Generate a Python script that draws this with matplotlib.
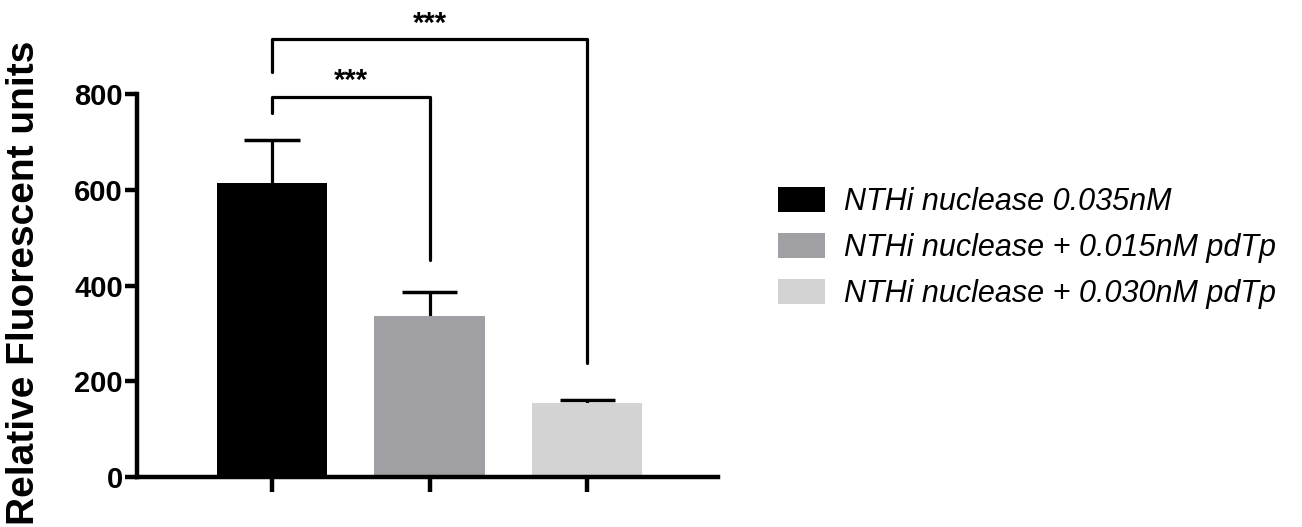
import matplotlib
matplotlib.use("Agg")
import matplotlib.pyplot as plt
from matplotlib.patches import Patch

# --- data
groups = ["NTHi nuclease 0.035nM",
          "NTHi nuclease + 0.015nM pdTp",
          "NTHi nuclease + 0.030nM pdTp"]
means = [615, 337, 154]
sem = [89, 50, 7]
colors = ["#000000", "#a0a0a4", "#d3d3d3"]
yticks = [0, 200, 400, 600, 800]

# significance brackets: (x1, x2, top, left leg end, right leg end, text y)
brackets = [(0, 1, 793, 760, 454, 828), (0, 2, 915, 847, 238, 946)]
stars = ["***", "***"]

plt.rcParams['font.family'] = ['Liberation Sans', 'DejaVu Sans']

fig = plt.figure(figsize=(13.02, 5.27), dpi=100)
ax = fig.add_axes([0.1052, 0.0949, 0.4463, 0.7267])

x = list(range(len(groups)))
ax.bar(x, means, width=0.70, color=colors, zorder=2)
# upper error bars only
tops = [m + s for m, s in zip(means, sem)]
ax.vlines(x, means, tops, color='black', lw=2.3, zorder=1)
ax.hlines(tops, [i - 0.175 for i in x], [i + 0.175 for i in x],
          color='black', lw=2.5, zorder=1)

for (x1, x2, top, l_end, r_end, ty), s in zip(brackets, stars):
    ax.plot([x1, x1, x2, x2], [l_end, top, top, r_end], color='black',
            lw=2.3, clip_on=False, solid_capstyle='round')
    ax.text((x1 + x2) / 2, ty, s, ha='center', va='center',
            fontsize=21, fontweight='bold', clip_on=False)

ax.set_xlim(-0.857, 2.83)
ax.set_ylim(0, 800)
ax.set_yticks(yticks)
ax.set_yticklabels([str(v) for v in yticks], fontsize=21, fontweight='heavy')
ax.set_xticks(x)
ax.set_xticklabels([])

for side in ['top', 'right']:
    ax.spines[side].set_visible(False)
for side in ['left', 'bottom']:
    ax.spines[side].set_linewidth(3.2)
ax.tick_params(axis='y', length=9, width=3.2, pad=1)
ax.tick_params(axis='x', length=11, width=3.2)

ax.set_ylabel("Relative Fluorescent units", fontsize=28, fontweight='bold')
ax.yaxis.set_label_coords(-0.1635, 0.507)

handles = [Patch(facecolor=c, edgecolor='none') for c in colors]
leg = fig.legend(handles, groups, loc='center left',
                 bbox_to_anchor=(0.5975, 0.529), frameon=False,
                 prop={'size': 22, 'style': 'italic'},
                 handlelength=1.54, handleheight=0.88, handletextpad=0.62,
                 labelspacing=0.52, borderpad=0, borderaxespad=0)

fig.savefig("out.png", dpi=100)
